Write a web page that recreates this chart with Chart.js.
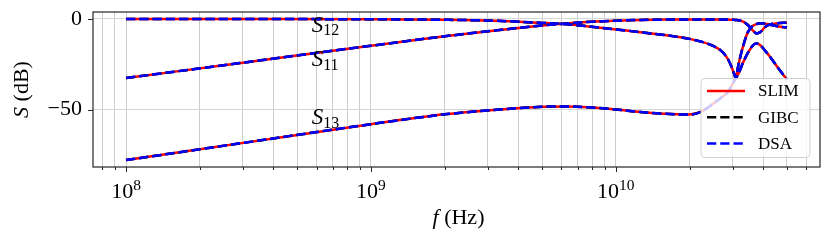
<!DOCTYPE html>
<html>
<head>
<meta charset="utf-8">
<script src="https://cdn.jsdelivr.net/npm/chart.js@4.4.0/dist/chart.umd.min.js"></script>
<style>
  html, body { margin: 0; padding: 0; background: #fff; }
</style>
</head>
<body>
<canvas id="chart" width="830" height="240"></canvas>
<script>
// Frecuencias (Hz)
const freq = [1.00e8, 3.16e8, 1.00e9, 2.00e9, 3.16e9, 5.01e9, 6.31e9, 7.94e9,
  1.00e10, 1.26e10, 1.58e10, 2.00e10, 2.24e10, 2.51e10, 2.69e10, 2.88e10,
  3.02e10, 3.09e10, 3.16e10, 3.31e10, 3.47e10, 3.63e10, 3.76e10, 3.89e10,
  4.07e10, 4.27e10, 4.57e10, 5.00e10];

// Parámetros S (dB)
const s11 = [-32.6, -23.7, -14.8, -9.6, -6.5, -3.6, -2.5, -1.6,
  -1.0, -0.6, -0.4, -0.3, -0.3, -0.3, -0.3, -0.4,
  -0.5, -0.6, -0.7, -1.5, -3.5, -6.5, -8.0, -7.3,
  -4.5, -3.0, -2.4, -2.1];
const s12 = [-0.05, -0.1, -0.2, -0.5, -1.0, -2.2, -3.0, -4.3,
  -5.8, -7.3, -8.9, -11.0, -12.6, -15.0, -17.5, -22.5,
  -29.0, -32.5, -26.0, -15.0, -7.0, -3.8, -2.8, -2.4,
  -2.6, -3.2, -4.0, -4.8];
const s13 = [-77.8, -67.9, -58.0, -52.6, -50.2, -48.4, -48.2, -48.8,
  -49.9, -51.3, -52.3, -52.7, -51.0, -46.5, -43.5, -40.0,
  -35.0, -32.5, -30.5, -24.0, -18.5, -14.6, -13.6, -14.5,
  -17.5, -21.0, -26.5, -33.5];

const methods = ['SLIM', 'GIBC', 'DSA'];
const majorTicks = [1e8, 1e9, 1e10];
const yTicks = [-50, 0];

const FONT = "'Liberation Serif', 'DejaVu Serif', serif";
const X_MIN = 7.33e7, X_MAX = 6.82e10;

// Estilos de cada método
const styles = {
  SLIM: { color: '#ff0000', dash: [], order: 3 },
  GIBC: { color: '#000000', dash: [9.25, 4], order: 2 },
  DSA:  { color: '#0000ff', dash: [9.25, 4], order: 1 }
};

// Posiciones de ticks menores (1..9 x 10^n)
const xTickValues = [];
for (let e = 7; e <= 10; e++) {
  for (let m = 1; m <= 9; m++) {
    const v = m * Math.pow(10, e);
    if (v >= X_MIN && v <= X_MAX) xTickValues.push(v);
  }
}

const datasets = [];
methods.forEach(name => {
  [s11, s12, s13].forEach(curve => {
    datasets.push({
      label: name,
      data: freq.map((f, i) => ({ x: f, y: curve[i] })),
      borderColor: styles[name].color,
      borderWidth: 2.5,
      borderDash: styles[name].dash,
      pointRadius: 0,
      fill: false,
      cubicInterpolationMode: 'monotone',
      order: styles[name].order
    });
  });
});

function drawMixed(ctx, parts, x, y, align) {
  // parts: [{text, italic, size, dy}]
  let total = 0;
  parts.forEach(p => {
    ctx.font = `${p.italic ? 'italic ' : ''}${p.size}px ${FONT}`;
    p.w = ctx.measureText(p.text).width;
    total += p.w;
  });
  let cx = align === 'center' ? x - total / 2 : x;
  ctx.textAlign = 'left';
  ctx.textBaseline = 'alphabetic';
  parts.forEach(p => {
    ctx.font = `${p.italic ? 'italic ' : ''}${p.size}px ${FONT}`;
    ctx.fillText(p.text, cx, y + (p.dy || 0));
    cx += p.w;
  });
}

const decorations = {
  id: 'decorations',
  afterDraw(chart) {
    const { ctx, chartArea: a, scales: { x, y } } = chart;
    ctx.save();

    // marco
    ctx.strokeStyle = '#262626';
    ctx.lineWidth = 1.2;
    ctx.strokeRect(a.left, a.top, a.right - a.left, a.bottom - a.top);

    // ticks del eje x
    ctx.lineWidth = 1;
    xTickValues.forEach(v => {
      const px = Math.round(x.getPixelForValue(v)) + 0.5;
      const len = majorTicks.includes(v) ? 5 : 3;
      ctx.beginPath();
      ctx.moveTo(px, a.bottom);
      ctx.lineTo(px, a.bottom + len);
      ctx.stroke();
    });
    // ticks del eje y
    yTicks.forEach(v => {
      const py = Math.round(y.getPixelForValue(v)) + 0.5;
      ctx.beginPath();
      ctx.moveTo(a.left, py);
      ctx.lineTo(a.left - 5, py);
      ctx.stroke();
    });

    // etiquetas 10^n
    ctx.fillStyle = '#000';
    majorTicks.forEach(v => {
      const px = x.getPixelForValue(v);
      const exp = String(Math.round(Math.log10(v)));
      drawMixed(ctx, [
        { text: '10', size: 22 },
        { text: exp, size: 15.5, dy: -8.5 }
      ], px, 198, 'center');
    });

    // títulos de ejes
    drawMixed(ctx, [
      { text: 'f', italic: true, size: 22 },
      { text: ' (Hz)', size: 22 }
    ], (a.left + a.right) / 2 + 2, 224, 'center');

    ctx.save();
    ctx.translate(28, (a.top + a.bottom) / 2);
    ctx.rotate(-Math.PI / 2);
    drawMixed(ctx, [
      { text: 'S', italic: true, size: 22 },
      { text: ' (dB)', size: 22 }
    ], 0, 0, 'center');
    ctx.restore();

    // anotaciones S_ij
    const notes = [
      ['12', -7.1], ['11', -26.1], ['13', -58.0]
    ];
    notes.forEach(([sub, dB]) => {
      drawMixed(ctx, [
        { text: 'S', italic: true, size: 23 },
        { text: sub, size: 16, dy: 3.5 }
      ], x.getPixelForValue(5.73e8), y.getPixelForValue(dB), 'left');
    });

    // leyenda
    const lx = 701, ly = 78.5, lw = 109, lh = 79, r = 4;
    ctx.beginPath();
    ctx.moveTo(lx + r, ly);
    ctx.arcTo(lx + lw, ly, lx + lw, ly + lh, r);
    ctx.arcTo(lx + lw, ly + lh, lx, ly + lh, r);
    ctx.arcTo(lx, ly + lh, lx, ly, r);
    ctx.arcTo(lx, ly, lx + lw, ly, r);
    ctx.closePath();
    ctx.fillStyle = 'rgba(255,255,255,0.8)';
    ctx.fill();
    ctx.strokeStyle = 'rgba(204,204,204,0.9)';
    ctx.lineWidth = 1;
    ctx.stroke();

    methods.forEach((name, i) => {
      const ry = 91 + i * 26.3;
      ctx.beginPath();
      ctx.setLineDash(styles[name].dash);
      ctx.strokeStyle = styles[name].color;
      ctx.lineWidth = 2.5;
      ctx.moveTo(707, ry);
      ctx.lineTo(745, ry);
      ctx.stroke();
      ctx.setLineDash([]);
      ctx.fillStyle = '#000';
      ctx.font = `17px ${FONT}`;
      ctx.textAlign = 'left';
      ctx.textBaseline = 'middle';
      ctx.fillText(name, 758, ry + 1);
    });

    ctx.restore();
  }
};

new Chart(document.getElementById('chart'), {
  type: 'line',
  data: { datasets },
  options: {
    responsive: false,
    animation: false,
    devicePixelRatio: 1,
    layout: { padding: { left: 0, top: 12, right: 10, bottom: 0 } },
    plugins: {
      legend: { display: false },
      tooltip: { enabled: false }
    },
    scales: {
      x: {
        type: 'logarithmic',
        min: X_MIN,
        max: X_MAX,
        afterBuildTicks: scale => {
          scale.ticks = xTickValues.map(v => ({ value: v }));
        },
        afterFit: scale => {
          scale.height = 73;
          scale.paddingLeft = 0;
          scale.paddingRight = 0;
        },
        ticks: { autoSkip: false, callback: () => '' },
        grid: { color: '#cdcdcd', lineWidth: 1, drawTicks: false },
        border: { display: false }
      },
      y: {
        type: 'linear',
        min: -81.6,
        max: 3.8,
        afterBuildTicks: scale => {
          scale.ticks = yTicks.map(v => ({ value: v }));
        },
        afterFit: scale => {
          scale.width = 93;
          scale.paddingTop = 0;
          scale.paddingBottom = 0;
        },
        ticks: {
          padding: 11,
          color: '#000',
          font: { family: FONT, size: 22 },
          callback: v => (v < 0 ? '\u2212' + Math.abs(v) : String(v))
        },
        grid: { color: '#d6d6d6', lineWidth: 1, drawTicks: false },
        border: { display: false }
      }
    }
  },
  plugins: [decorations]
});
</script>
</body>
</html>
